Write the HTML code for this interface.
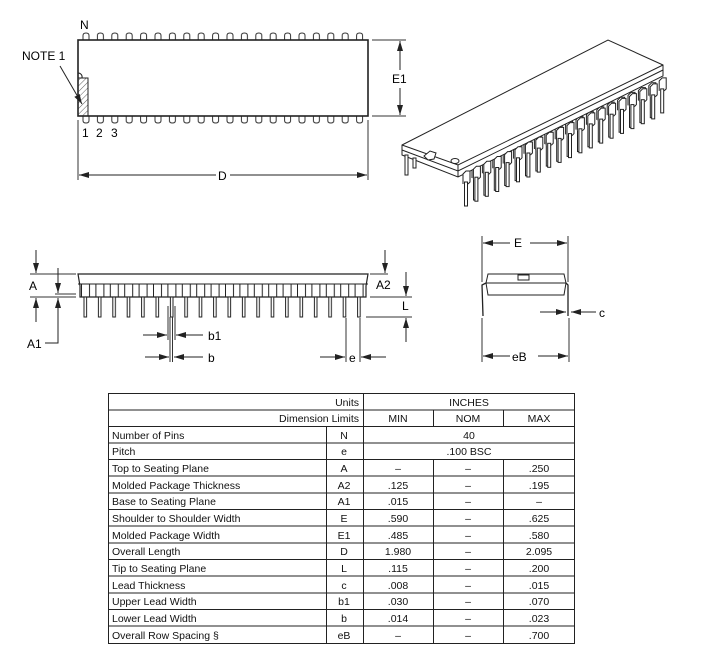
<!DOCTYPE html>
<html><head><meta charset="utf-8"><style>
html,body{margin:0;padding:0;background:#fff;}
svg{display:block;font-family:"Liberation Sans",Arial,sans-serif;}
</style></head><body>
<svg width="701" height="658" viewBox="0 0 701 658" xmlns="http://www.w3.org/2000/svg">
<defs>
<pattern id="tp" patternUnits="userSpaceOnUse" x="82.5" y="0" width="14.4" height="700">
 <path d="M0.5,40 V35.5 Q0.5,33 3.5,33 Q6.5,33 6.5,35.5 V40" fill="none" stroke="#333" stroke-width="1"/>
</pattern>
<pattern id="bp" patternUnits="userSpaceOnUse" x="82.5" y="0" width="14.4" height="700">
 <path d="M0.5,116 V120.5 Q0.5,123 3.5,123 Q6.5,123 6.5,120.5 V116" fill="none" stroke="#333" stroke-width="1"/>
</pattern>
<pattern id="sp" patternUnits="userSpaceOnUse" x="81" y="0" width="14.4" height="700">
 <path d="M0.5,297 V284 H8.5 V297" fill="none" stroke="#222" stroke-width="1"/>
 <rect x="3" y="297" width="2.6" height="20" fill="#fff" stroke="#222" stroke-width="1"/>
</pattern>
<pattern id="hatch" patternUnits="userSpaceOnUse" width="4" height="4" patternTransform="rotate(45)">
 <line x1="0" y1="0" x2="0" y2="4" stroke="#333" stroke-width="0.8"/>
</pattern>
<g id="pin">
 <path d="M0,12 V2 L3,-1 H7 V10 L5,12" fill="#fff" stroke="#222" stroke-width="1"/>
 <rect x="1.5" y="10" width="3" height="24" fill="#fff" stroke="#222" stroke-width="1"/>
</g>
<marker id="ar" markerWidth="10" markerHeight="6" refX="10" refY="3" orient="auto" markerUnits="userSpaceOnUse">
 <path d="M0,0 L10,3 L0,6 Z" fill="#222"/>
</marker>
</defs>

<!-- TOP VIEW -->
<text x="80" y="29" font-size="12">N</text>
<rect x="78" y="30" width="290" height="12" fill="url(#tp)"/>
<rect x="78" y="114" width="290" height="12" fill="url(#bp)"/>
<rect x="78" y="40" width="290" height="76" fill="none" stroke="#222" stroke-width="1.6"/>
<rect x="78" y="78" width="10" height="38" fill="url(#hatch)" stroke="#222" stroke-width="1"/>
<path d="M78,73 A4,4 0 0 1 82,78" fill="none" stroke="#222"/>
<text x="22" y="60" font-size="12">NOTE 1</text>
<line x1="60" y1="66" x2="82" y2="104" stroke="#222" marker-end="url(#ar)"/>
<text x="82" y="137" font-size="12">1</text>
<text x="96" y="137" font-size="12">2</text>
<text x="111" y="137" font-size="12">3</text>
<line x1="372" y1="40" x2="406" y2="40" stroke="#333"/>
<line x1="372" y1="116" x2="406" y2="116" stroke="#333"/>
<line x1="400" y1="70" x2="400" y2="41" stroke="#222" marker-end="url(#ar)"/>
<line x1="400" y1="88" x2="400" y2="115" stroke="#222" marker-end="url(#ar)"/>
<text x="392" y="83" font-size="12">E1</text>
<line x1="78" y1="120" x2="78" y2="180" stroke="#333"/>
<line x1="368" y1="120" x2="368" y2="180" stroke="#333"/>
<line x1="216" y1="175" x2="79" y2="175" stroke="#222" marker-end="url(#ar)"/>
<line x1="230" y1="175" x2="367" y2="175" stroke="#222" marker-end="url(#ar)"/>
<text x="218" y="180" font-size="12">D</text>

<!-- 3D VIEW -->
<g transform="translate(9,-6)">
<use href="#pin" x="463" y="172"/><use href="#pin" x="473.4" y="167.2"/><use href="#pin" x="483.8" y="162.3"/><use href="#pin" x="494.2" y="157.5"/><use href="#pin" x="504.6" y="152.6"/><use href="#pin" x="515" y="147.8"/><use href="#pin" x="525.4" y="143"/><use href="#pin" x="535.8" y="138.1"/><use href="#pin" x="546.2" y="133.3"/><use href="#pin" x="556.6" y="128.4"/><use href="#pin" x="567" y="123.6"/><use href="#pin" x="577.4" y="118.8"/><use href="#pin" x="587.8" y="113.9"/><use href="#pin" x="598.2" y="109.1"/><use href="#pin" x="608.6" y="104.2"/><use href="#pin" x="619" y="99.4"/><use href="#pin" x="629.4" y="94.6"/><use href="#pin" x="639.8" y="89.7"/><use href="#pin" x="650.2" y="84.9"/>
</g>
<polygon points="402,145 608,40 663,65 663,76 458,177 402,155" fill="#fff" stroke="#222" stroke-width="1"/>
<polyline points="402,145 458,165 663,65" fill="none" stroke="#222"/>
<polyline points="402,150 458,171 663,70" fill="none" stroke="#222"/>
<line x1="458" y1="165" x2="458" y2="177" stroke="#222"/>
<rect x="405" y="155" width="3" height="20" fill="#fff" stroke="#222"/>
<rect x="413" y="158" width="3" height="10" fill="#fff" stroke="#222"/>
<polygon points="424,156 430,151 436,153 434,159 428,160" fill="#fff" stroke="#222"/>
<ellipse cx="455" cy="161" rx="4" ry="2.5" fill="#fff" stroke="#222"/>
<use href="#pin" x="463" y="172"/><use href="#pin" x="473.4" y="167.2"/><use href="#pin" x="483.8" y="162.3"/><use href="#pin" x="494.2" y="157.5"/><use href="#pin" x="504.6" y="152.6"/><use href="#pin" x="515" y="147.8"/><use href="#pin" x="525.4" y="143"/><use href="#pin" x="535.8" y="138.1"/><use href="#pin" x="546.2" y="133.3"/><use href="#pin" x="556.6" y="128.4"/><use href="#pin" x="567" y="123.6"/><use href="#pin" x="577.4" y="118.8"/><use href="#pin" x="587.8" y="113.9"/><use href="#pin" x="598.2" y="109.1"/><use href="#pin" x="608.6" y="104.2"/><use href="#pin" x="619" y="99.4"/><use href="#pin" x="629.4" y="94.6"/><use href="#pin" x="639.8" y="89.7"/><use href="#pin" x="650.2" y="84.9"/>

<!-- SIDE VIEW -->
<path d="M78,274 H368 L366,286 V297 H80 V286 Z" fill="#fff" stroke="#222" stroke-width="1.2"/>
<rect x="78" y="284" width="290" height="34" fill="url(#sp)"/>
<line x1="78" y1="284" x2="368" y2="284" stroke="#222"/>
<line x1="30" y1="274" x2="76" y2="274" stroke="#333"/>
<line x1="30" y1="297" x2="76" y2="297" stroke="#333"/>
<line x1="55" y1="294" x2="76" y2="294" stroke="#333"/>
<line x1="36" y1="250" x2="36" y2="273" stroke="#222" marker-end="url(#ar)"/>
<line x1="36" y1="322" x2="36" y2="298" stroke="#222" marker-end="url(#ar)"/>
<text x="29" y="290" font-size="12">A</text>
<line x1="58" y1="268" x2="58" y2="293" stroke="#222" marker-end="url(#ar)"/>
<polyline points="45,343 58,343 58,298" fill="none" stroke="#222" marker-end="url(#ar)"/>
<text x="27" y="348" font-size="12">A1</text>
<line x1="370" y1="274" x2="388" y2="274" stroke="#333"/>
<line x1="370" y1="297" x2="412" y2="297" stroke="#333"/>
<line x1="366" y1="317" x2="412" y2="317" stroke="#333"/>
<line x1="385" y1="250" x2="385" y2="273" stroke="#222" marker-end="url(#ar)"/>
<text x="376" y="289" font-size="12">A2</text>
<line x1="406" y1="272" x2="406" y2="296" stroke="#222" marker-end="url(#ar)"/>
<line x1="406" y1="342" x2="406" y2="318" stroke="#222" marker-end="url(#ar)"/>
<text x="402" y="310" font-size="12">L</text>
<line x1="170" y1="317" x2="170" y2="362" stroke="#333"/>
<line x1="172.5" y1="317" x2="172.5" y2="362" stroke="#333"/>
<line x1="168" y1="306" x2="168" y2="340" stroke="#333"/>
<line x1="175" y1="306" x2="175" y2="340" stroke="#333"/>
<line x1="143" y1="335" x2="167" y2="335" stroke="#222" marker-end="url(#ar)"/>
<line x1="203" y1="335" x2="176" y2="335" stroke="#222" marker-end="url(#ar)"/>
<text x="208" y="340" font-size="12">b1</text>
<line x1="145" y1="357" x2="169" y2="357" stroke="#222" marker-end="url(#ar)"/>
<line x1="203" y1="357" x2="174" y2="357" stroke="#222" marker-end="url(#ar)"/>
<text x="208" y="362" font-size="12">b</text>
<line x1="346" y1="318" x2="346" y2="362" stroke="#333"/>
<line x1="360" y1="318" x2="360" y2="362" stroke="#333"/>
<line x1="320" y1="357" x2="345" y2="357" stroke="#222" marker-end="url(#ar)"/>
<line x1="386" y1="357" x2="361" y2="357" stroke="#222" marker-end="url(#ar)"/>
<text x="349" y="362" font-size="12">e</text>

<!-- END VIEW -->
<line x1="482" y1="236" x2="482" y2="282" stroke="#333"/>
<line x1="568" y1="236" x2="568" y2="282" stroke="#333"/>
<line x1="510" y1="243" x2="483" y2="243" stroke="#222" marker-end="url(#ar)"/>
<line x1="530" y1="243" x2="567" y2="243" stroke="#222" marker-end="url(#ar)"/>
<text x="514" y="247" font-size="12">E</text>
<path d="M488,274 H564 L566,283 L564,295 H488 L486,283 Z" fill="#fff" stroke="#222"/>
<line x1="486" y1="283" x2="566" y2="283" stroke="#222"/>
<rect x="518" y="275" width="11" height="5" fill="#fff" stroke="#222"/>
<path d="M486,283 L482,285 L483,316" fill="none" stroke="#222" stroke-width="1.3"/>
<path d="M566,283 L568,285 L568,316" fill="none" stroke="#222" stroke-width="1.3"/>
<line x1="482" y1="318" x2="482" y2="362" stroke="#333"/>
<line x1="569" y1="318" x2="569" y2="362" stroke="#333"/>
<line x1="540" y1="312" x2="566" y2="312" stroke="#222" marker-end="url(#ar)"/>
<line x1="596" y1="312" x2="571" y2="312" stroke="#222" marker-end="url(#ar)"/>
<text x="599" y="317" font-size="12">c</text>
<line x1="510" y1="356" x2="483" y2="356" stroke="#222" marker-end="url(#ar)"/>
<line x1="538" y1="356" x2="568" y2="356" stroke="#222" marker-end="url(#ar)"/>
<text x="512" y="361" font-size="12">eB</text>

<!-- TABLE -->
<g stroke="#222" stroke-width="1" fill="none">
<rect x="108.5" y="393.5" width="466" height="250"/>
<line x1="108" y1="410" x2="575" y2="410"/>
<line x1="108" y1="426.5" x2="575" y2="426.5"/>
<line x1="108" y1="443" x2="575" y2="443"/>
<line x1="108" y1="459.5" x2="575" y2="459.5"/>
<line x1="108" y1="476" x2="575" y2="476"/>
<line x1="108" y1="493" x2="575" y2="493"/>
<line x1="108" y1="509.5" x2="575" y2="509.5"/>
<line x1="108" y1="526" x2="575" y2="526"/>
<line x1="108" y1="543" x2="575" y2="543"/>
<line x1="108" y1="559.5" x2="575" y2="559.5"/>
<line x1="108" y1="576" x2="575" y2="576"/>
<line x1="108" y1="593" x2="575" y2="593"/>
<line x1="108" y1="609.5" x2="575" y2="609.5"/>
<line x1="108" y1="626" x2="575" y2="626"/>
<line x1="363.5" y1="393" x2="363.5" y2="643"/>
<line x1="326.5" y1="426" x2="326.5" y2="643"/>
<line x1="433.5" y1="410" x2="433.5" y2="426"/>
<line x1="503.5" y1="410" x2="503.5" y2="426"/>
<line x1="433.5" y1="459" x2="433.5" y2="643"/>
<line x1="503.5" y1="459" x2="503.5" y2="643"/>
</g>
<g font-size="10.5" fill="#111">
<text x="359" y="406" text-anchor="end">Units</text>
<text x="469" y="406" text-anchor="middle">INCHES</text>
<text x="359" y="422" text-anchor="end">Dimension Limits</text>
<text x="398" y="422" text-anchor="middle">MIN</text>
<text x="468" y="422" text-anchor="middle">NOM</text>
<text x="539" y="422" text-anchor="middle">MAX</text>
<g>
<text x="112" y="439">Number of Pins</text>
<text x="112" y="455">Pitch</text>
<text x="112" y="472">Top to Seating Plane</text>
<text x="112" y="489">Molded Package Thickness</text>
<text x="112" y="505">Base to Seating Plane</text>
<text x="112" y="522">Shoulder to Shoulder Width</text>
<text x="112" y="539">Molded Package Width</text>
<text x="112" y="555">Overall Length</text>
<text x="112" y="572">Tip to Seating Plane</text>
<text x="112" y="589">Lead Thickness</text>
<text x="112" y="605">Upper Lead Width</text>
<text x="112" y="622">Lower Lead Width</text>
<text x="112" y="639">Overall Row Spacing  §</text>
</g>
<g text-anchor="middle">
<text x="344" y="439">N</text><text x="469" y="439">40</text>
<text x="344" y="455">e</text><text x="469" y="455">.100 BSC</text>
<text x="344" y="472">A</text><text x="398" y="472">–</text><text x="468" y="472">–</text><text x="539" y="472">.250</text>
<text x="344" y="489">A2</text><text x="398" y="489">.125</text><text x="468" y="489">–</text><text x="539" y="489">.195</text>
<text x="344" y="505">A1</text><text x="398" y="505">.015</text><text x="468" y="505">–</text><text x="539" y="505">–</text>
<text x="344" y="522">E</text><text x="398" y="522">.590</text><text x="468" y="522">–</text><text x="539" y="522">.625</text>
<text x="344" y="539">E1</text><text x="398" y="539">.485</text><text x="468" y="539">–</text><text x="539" y="539">.580</text>
<text x="344" y="555">D</text><text x="398" y="555">1.980</text><text x="468" y="555">–</text><text x="539" y="555">2.095</text>
<text x="344" y="572">L</text><text x="398" y="572">.115</text><text x="468" y="572">–</text><text x="539" y="572">.200</text>
<text x="344" y="589">c</text><text x="398" y="589">.008</text><text x="468" y="589">–</text><text x="539" y="589">.015</text>
<text x="344" y="605">b1</text><text x="398" y="605">.030</text><text x="468" y="605">–</text><text x="539" y="605">.070</text>
<text x="344" y="622">b</text><text x="398" y="622">.014</text><text x="468" y="622">–</text><text x="539" y="622">.023</text>
<text x="344" y="639">eB</text><text x="398" y="639">–</text><text x="468" y="639">–</text><text x="539" y="639">.700</text>
</g>
</g>
</svg>
</body></html>
